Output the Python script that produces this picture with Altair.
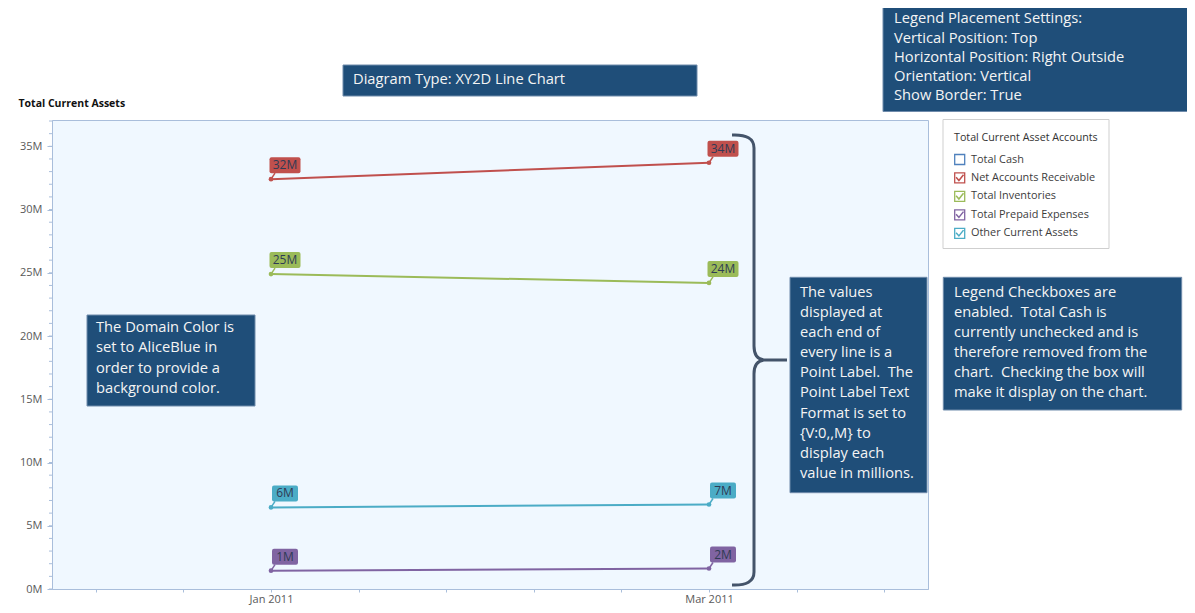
import altair as alt
import pandas as pd

# ---------------- data ----------------
series = ["Net Accounts Receivable", "Total Inventories", "Total Prepaid Expenses", "Other Current Assets"]
colors = ["#c0504d", "#9bbb59", "#8064a2", "#4bacc6"]
months = [1, 3]
month_names = ["Jan 2011", "Mar 2011"]
jan_values = [32.4, 24.9, 1.45, 6.45]   # millions
mar_values = [33.7, 24.2, 1.62, 6.68]   # millions

legend_items = ["Total Cash", "Net Accounts Receivable", "Total Inventories",
                "Total Prepaid Expenses", "Other Current Assets"]
legend_colors = ["#4f81bd", "#c0504d", "#9bbb59", "#8064a2", "#4bacc6"]
legend_checked = [False, True, True, True, True]

y_major = [0, 5, 10, 15, 20, 25, 30, 35]
y_minor = list(range(0, 38))
x_ticks = [0.2, 0.6, 1.0, 1.4, 1.8, 2.2, 2.6, 3.0, 3.4, 3.8]

NB = "\u00a0"
notes_top = ["Legend Placement Settings:", "Vertical Position: Top",
             "Horizontal Position: Right Outside", "Orientation: Vertical",
             "Show Border: True"]
note_diagram = ["Diagram Type: XY2D Line Chart"]
note_domain = ["The Domain Color is", "set to AliceBlue in", "order to provide a", "background color."]
note_values = ["The values", "displayed at", "each end of", "every line is a",
               "Point Label." + NB + " The", "Point Label Text", "Format is set to",
               "{V:0,,M} to", "display each", "value in millions."]
note_legend = ["Legend Checkboxes are", "enabled." + NB + " Total Cash is",
               "currently unchecked and is", "therefore removed from the",
               "chart." + NB + " Checking the box will", "make it display on the chart."]

rows = []
for s, j, m in zip(series, jan_values, mar_values):
    rows.append({"series": s, "month": months[0], "value": j})
    rows.append({"series": s, "month": months[1], "value": m})
df = pd.DataFrame(rows)

FONT = "Open Sans"
BOX = "#1f4e79"
AXIS_C = "#a9bedb"
NOTE_FS = 14.7

label_expr_x = " : ".join(
    [f"datum.value === {m} ? '{n}'" for m, n in zip(months, month_names)]) + " : ''"

x_enc = alt.X("month:Q",
              scale=alt.Scale(domain=[0, 4], nice=False, zero=False),
              axis=alt.Axis(values=x_ticks, labelExpr=label_expr_x, title=None,
                            grid=False, tickSize=3, labelPadding=1,
                            labelOverlap=False, labelFlush=False))
y_enc = alt.Y("value:Q",
              scale=alt.Scale(domain=[0, 37.08], nice=False),
              axis=alt.Axis(values=y_major,
                            labelExpr="datum.value + 'M'",
                            tickSize=5, labelPadding=5, labelOverlap=False, grid=False,
                            title="Total Current Assets", titleAngle=0, titleAlign="left",
                            titleBaseline="middle", titleX=-34, titleY=-17,
                            titleFontWeight="bold", titleFontSize=10.5, titleColor="#111111"))
c_enc = alt.Color("series:N", scale=alt.Scale(domain=series, range=colors), legend=None)

base = alt.Chart(df).transform_calculate(
    label="format(datum.value, '.0f') + 'M'"
).transform_calculate(
    box="length(datum.label) > 2 ? 'wide' : 'narrow'"
)

lines = base.mark_line(strokeWidth=2).encode(x=x_enc, y=y_enc, color=c_enc, detail="series:N")
points = base.mark_circle(size=22, opacity=1).encode(x="month:Q", y="value:Q", color=c_enc)
connect = base.mark_rule(strokeWidth=1.5, x2Offset=4, y2Offset=-6).encode(
    x="month:Q", x2="month:Q", y="value:Q", y2="value:Q", color=c_enc)

p_narrow = "M-13,-6Q-13,-8 -11,-8H11Q13,-8 13,-6V6Q13,8 11,8H-11Q-13,8 -13,6Z"
p_wide = "M-15.5,-6Q-15.5,-8 -13.5,-8H13.5Q15.5,-8 15.5,-6V6Q15.5,8 13.5,8H-13.5Q-15.5,8 -15.5,6Z"
boxes = base.mark_point(filled=True, size=4, opacity=1, strokeWidth=0, xOffset=14, yOffset=-14).encode(
    x="month:Q", y="value:Q", color=c_enc,
    shape=alt.Shape("box:N", scale=alt.Scale(domain=["narrow", "wide"], range=[p_narrow, p_wide]), legend=None))
texts = base.mark_text(xOffset=14, yOffset=-14, fontSize=12, font=FONT, color="#2f3b55",
                       align="center", baseline="middle").encode(
    x="month:Q", y="value:Q", text="label:N")

minor_ticks = alt.Chart(pd.DataFrame({"value": y_minor})).mark_tick(
    orient="horizontal", size=3, thickness=1, color=AXIS_C, opacity=1).encode(
    y=alt.Y("value:Q"), x=alt.value(-1.5))

dummy = alt.Chart(pd.DataFrame({"a": [0]}))


def note(x1, x2, y1, y2, tx, ty, lines_, lh=20.15, fs=NOTE_FS):
    layers = [dummy.mark_rect(fill=BOX, stroke="#6f8bab", strokeWidth=1).encode(
        x=alt.value(x1), x2=alt.value(x2), y=alt.value(y1), y2=alt.value(y2))]
    for i, t in enumerate(lines_):
        layers.append(dummy.mark_text(align="left", baseline="middle", fontSize=fs, font=FONT,
                                      color="#f4f4f4").encode(
            x=alt.value(tx), y=alt.value(ty + i * lh), text=alt.value(t)))
    return layers


annos = []
annos += note(291, 645, -55, -24, 301, -40, note_diagram)
annos += note(831, 1150, -125, -8.5, 842, -100.6, notes_top, lh=19.15)
annos += note(35, 203, 195, 286, 44, 208, note_domain, lh=20.3)
annos += note(738, 875, 157.3, 372.7, 748, 172.7, note_values)
annos += note(891.3, 1129.7, 157.3, 290, 902, 172.7, note_legend)

brace_path = ("M-22,-225 Q0,-226 0,-212 L0,-14 Q0,-1 10,0 Q0,1 0,14 L0,212 "
              "Q0,226 -22,225 M10,0 L33,0")
brace = dummy.mark_point(shape=brace_path, size=4, filled=False, stroke="#44546a",
                         strokeWidth=3, opacity=1).encode(x=alt.value(702), y=alt.value(240))

# legend (drawn)
leg = [dummy.mark_rect(fill="white", stroke="#cfcfcf", strokeWidth=1).encode(
    x=alt.value(891), x2=alt.value(1057), y=alt.value(-0.5), y2=alt.value(128.5)),
    dummy.mark_text(align="left", baseline="middle", fontSize=10.7, font=FONT, color="#333333").encode(
        x=alt.value(902), y=alt.value(18.3), text=alt.value("Total Current Asset Accounts"))]
sq = "M-5,-5H5V5H-5Z"
chk = "M-3.6,-0.6L-0.8,2.6L3.8,-3.2"
for i, (name, col, ck) in enumerate(zip(legend_items, legend_colors, legend_checked)):
    yy = 39.5 + i * 18.45
    leg.append(dummy.mark_point(shape=sq, size=4, filled=False, stroke=col, strokeWidth=1.3,
                                opacity=1).encode(x=alt.value(907.7), y=alt.value(yy)))
    if ck:
        leg.append(dummy.mark_point(shape=chk, size=4, filled=False, stroke=col, strokeWidth=1.5,
                                    opacity=1).encode(x=alt.value(907.7), y=alt.value(yy)))
    leg.append(dummy.mark_text(align="left", baseline="middle", fontSize=10.9, font=FONT,
                               color="#3c3c3c").encode(x=alt.value(919), y=alt.value(yy), text=alt.value(name)))

chart = alt.layer(lines, minor_ticks, connect, points, boxes, texts, brace, *annos, *leg).properties(
    width=876, height=469,
    padding={"left": 44, "top": 112, "right": 259, "bottom": 16},
    autosize=alt.AutoSizeParams(type="none"),
    background="white",
).configure_view(
    stroke=AXIS_C, fill="#F0F8FF", strokeWidth=1
).configure_axis(
    domainColor=AXIS_C, tickColor=AXIS_C, labelColor="#595959", labelFont=FONT,
    labelFontSize=11, titleFont=FONT
)

chart.save("out.html", embed_options={"renderer": "svg", "actions": False})
